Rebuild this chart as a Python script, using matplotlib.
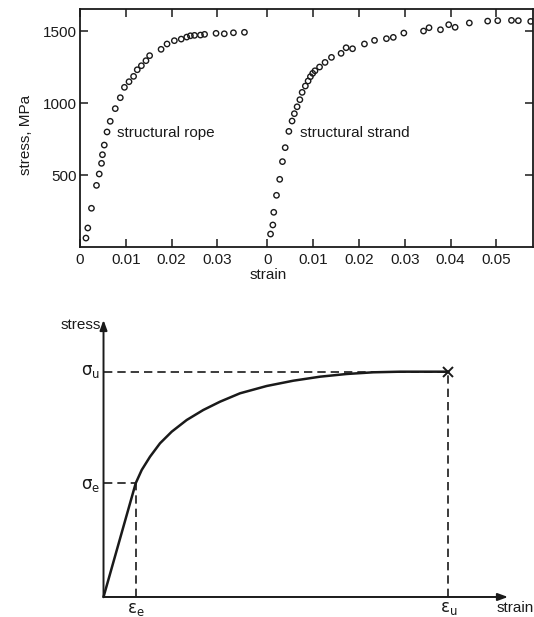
import numpy as np
import matplotlib
matplotlib.use("Agg")
import matplotlib.pyplot as plt

plt.rcParams["font.family"] = ["Liberation Sans", "DejaVu Sans"]
plt.rcParams["mathtext.fontset"] = "dejavusans"

INK = "#1a1a1a"

# ── Test data: stress-strain for rope and strand ──────────────
rope_strain = [0.0013, 0.0017, 0.0025, 0.0036, 0.0042, 0.0047, 0.0049, 0.0053,
               0.0059, 0.0066, 0.0077, 0.0088, 0.0097, 0.0107, 0.0117, 0.0125,
               0.0134, 0.0144, 0.0152, 0.0177, 0.0190, 0.0206, 0.0221, 0.0233,
               0.0241, 0.0250, 0.0263, 0.0272, 0.0297, 0.0315, 0.0335, 0.0359]
rope_stress = [62, 132, 269, 428, 507, 581, 641, 708,
               799, 873, 961, 1037, 1109, 1148, 1185, 1231,
               1259, 1294, 1329, 1373, 1410, 1433, 1444, 1458,
               1467, 1470, 1472, 1477, 1484, 1481, 1488, 1491]

strand_strain = [0.0007, 0.0012, 0.0014, 0.0020, 0.0027, 0.0033, 0.0039, 0.0047,
                 0.0054, 0.0059, 0.0065, 0.0071, 0.0076, 0.0083, 0.0089, 0.0094,
                 0.0099, 0.0104, 0.0114, 0.0126, 0.0140, 0.0161, 0.0172, 0.0186,
                 0.0212, 0.0234, 0.0260, 0.0275, 0.0298, 0.0341, 0.0353, 0.0378,
                 0.0396, 0.0410, 0.0441, 0.0481, 0.0503, 0.0533, 0.0548, 0.0575]
strand_stress = [90, 153, 241, 359, 470, 593, 690, 803,
                 875, 926, 974, 1023, 1074, 1118, 1153, 1183,
                 1206, 1224, 1250, 1282, 1317, 1345, 1384, 1377,
                 1410, 1435, 1447, 1456, 1486, 1500, 1523, 1509,
                 1544, 1526, 1556, 1569, 1572, 1574, 1572, 1567]

rope_ticks = [0.01, 0.02, 0.03]
strand_ticks = [0.0, 0.01, 0.02, 0.03, 0.04, 0.05]
stress_ticks = [500, 1000, 1500]

# strand curve sits to the right of the rope curve on a shared frame
STRAND_X0 = 0.0409

# ── Idealised curve (normalised by eps_u, sigma_u) ────────────
ideal_strain = [0.0, 0.0934, 0.1108, 0.1349, 0.1639, 0.1978, 0.2413, 0.2894,
                0.3379, 0.3959, 0.4733, 0.5505, 0.6279, 0.7053, 0.7825, 0.8599, 1.0]
ideal_stress = [0.0, 0.505, 0.5637, 0.6227, 0.6822, 0.7337, 0.7856, 0.8300,
                0.8668, 0.9041, 0.9365, 0.9600, 0.9778, 0.9898, 0.9973, 1.0, 1.0]
eps_e, sig_e = ideal_strain[1], ideal_stress[1]
eps_u, sig_u = ideal_strain[-1], ideal_stress[-1]

W, H = 534, 617
fig = plt.figure(figsize=(W / 100, H / 100), dpi=100)


def px_axes(x0, y0, x1, y1):
    """Axes from pixel box (top-left origin)."""
    return fig.add_axes([x0 / W, 1 - y1 / H, (x1 - x0) / W, (y1 - y0) / H])


# ── Top: measured curves ──────────────────────────────────────
ax = px_axes(80, 9, 533, 247)
ax.scatter(rope_strain, rope_stress, s=15, facecolors="none",
           edgecolors=INK, linewidths=1.0, zorder=3)
ax.scatter(np.array(strand_strain) + STRAND_X0, strand_stress, s=15,
           facecolors="none", edgecolors=INK, linewidths=1.0, zorder=3)

ax.set_xlim(0, 0.0989)
ax.set_ylim(0, 1653)

xt = [0.0] + rope_ticks + [t + STRAND_X0 for t in strand_ticks]
xl = ["0"] + [f"{t:.2f}" for t in rope_ticks] + \
     ["0"] + [f"{t:.2f}" for t in strand_ticks[1:]]
ax.set_xticks(xt)
ax.set_xticklabels(xl)
ax.set_yticks(stress_ticks)
ax.set_yticklabels([str(v) for v in stress_ticks])

ax.tick_params(direction="in", top=True, right=True, length=6, width=1.1,
               colors=INK, labelsize=11, pad=4)
ax.tick_params(axis="y", pad=2)
for sp in ax.spines.values():
    sp.set_linewidth(1.3)
    sp.set_color(INK)

ax.text(0.0081, 792, "structural rope", fontsize=11, color=INK, va="center")
ax.text(0.0480, 792, "structural strand", fontsize=11, color=INK, va="center")

fig.text(268 / W, 1 - 275 / H, "strain", fontsize=11, color=INK,
         ha="center", va="center")
fig.text(26 / W, 1 - 135 / H, "stress, MPa", fontsize=11, color=INK,
         ha="center", va="center", rotation=90)

# ── Bottom: idealised stress-strain diagram ───────────────────
bx = px_axes(60, 300, 534, 617)
bx.set_xlim(-0.1262, 1.2486)
bx.set_ylim(-0.0888, 1.3182)
bx.axis("off")

arrow = dict(arrowstyle="-|>,head_length=0.6,head_width=0.22",
             lw=1.4, color=INK, shrinkA=0, shrinkB=0)
bx.annotate("", xy=(0, 1.2295), xytext=(0, 0), arrowprops=arrow)
bx.annotate("", xy=(1.1732, 0), xytext=(0, 0), arrowprops=arrow)

bx.plot(ideal_strain, ideal_stress, color=INK, lw=1.8,
        solid_capstyle="round", solid_joinstyle="round")

dash = dict(color=INK, lw=1.2, linestyle=(0, (5, 3)))
bx.plot([0, eps_u], [sig_u, sig_u], **dash)
bx.plot([eps_u, eps_u], [0, sig_u], **dash)
bx.plot([0, eps_e], [sig_e, sig_e], **dash)
bx.plot([eps_e, eps_e], [0, sig_e], **dash)
bx.plot([eps_u], [sig_u], marker="x", ms=7, mew=1.4, color=INK)

bx.text(-0.007, 1.207, "stress", fontsize=11, color=INK, ha="right", va="center")
bx.text(1.141, -0.049, "strain", fontsize=11, color=INK, ha="left", va="center")
bx.text(-0.01, sig_u, r"$\mathrm{\sigma_u}$", fontsize=12, color=INK,
        ha="right", va="center")
bx.text(-0.01, sig_e - 0.01, r"$\mathrm{\sigma_e}$", fontsize=12, color=INK,
        ha="right", va="center")
bx.text(eps_e, -0.055, r"$\mathrm{\varepsilon_e}$", fontsize=12, color=INK,
        ha="center", va="center")
bx.text(eps_u, -0.05, r"$\mathrm{\varepsilon_u}$", fontsize=12, color=INK,
        ha="center", va="center")

fig.savefig("out.png", dpi=100)
